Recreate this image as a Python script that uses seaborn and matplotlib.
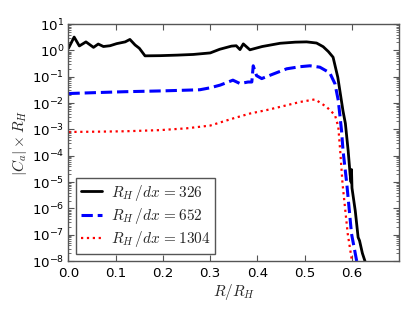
import numpy as np
import pandas as pd
import matplotlib
matplotlib.use("Agg")
import matplotlib.pyplot as plt
from matplotlib.ticker import LogLocator, NullFormatter
import seaborn as sns

# ---- data ----
x_326 = [0.0, 0.012, 0.023, 0.037, 0.053, 0.063, 0.074, 0.088, 0.102, 0.12, 0.13, 0.141,
         0.15, 0.162, 0.194, 0.23, 0.264, 0.3, 0.32, 0.345, 0.355, 0.363, 0.37, 0.384, 0.41,
         0.448, 0.48, 0.504, 0.525, 0.539, 0.55, 0.56, 0.57, 0.581, 0.586, 0.592, 0.596,
         0.598, 0.599, 0.600, 0.607, 0.613, 0.616, 0.622, 0.633]
y_326 = [1.2, 3.2, 1.47, 2.1, 1.3, 1.74, 1.4, 1.5, 1.8, 2.1, 2.6, 1.6,
         1.2, 0.62, 0.63, 0.66, 0.7, 0.8, 1.1, 1.45, 1.5, 1.07, 1.76, 1.05, 1.4,
         1.86, 2.05, 2.1, 1.9, 1.38, 0.9, 0.55, 0.095, 5e-3, 1.7e-3, 1.5e-4, 2e-5,
         1e-5, 3e-5, 6e-6, 8e-7, 8e-8, 6e-8, 2e-8, 5e-9]

x_652 = [0.0, 0.06, 0.12, 0.2, 0.278, 0.3, 0.321, 0.348, 0.363, 0.38, 0.388, 0.391, 0.398,
         0.409, 0.43, 0.462, 0.49, 0.511, 0.532, 0.553, 0.564, 0.571, 0.578, 0.581, 0.589,
         0.599, 0.61, 0.614]
y_652 = [0.023, 0.025, 0.027, 0.029, 0.032, 0.038, 0.048, 0.074, 0.055, 0.063, 0.063, 0.26, 0.11,
         0.085, 0.12, 0.2, 0.24, 0.26, 0.23, 0.14, 0.054, 0.0126, 8.7e-4, 1.6e-4, 8.7e-6,
         1.1e-7, 1e-8, 5e-9]

x_1304 = [0.0, 0.06, 0.12, 0.194, 0.25, 0.3, 0.348, 0.384, 0.419, 0.455, 0.49, 0.522, 0.546,
          0.564, 0.571, 0.575, 0.58, 0.591, 0.6, 0.603]
y_1304 = [8e-4, 8.2e-4, 8.5e-4, 9.4e-4, 1.1e-3, 1.4e-3, 2.6e-3, 4e-3, 5.4e-3, 7.7e-3, 0.011,
          0.0138, 7.2e-3, 3.5e-3, 1.26e-3, 1.6e-4, 8.7e-6, 1.1e-7, 1e-8, 5e-9]

labels = [r'$R_H\,/dx\,=326$', r'$R_H\,/dx\,=652$', r'$R_H\,/dx\,=1304$']
colors = ['black', 'blue', 'red']
styles = ['-', '--', ':']
widths = [2.0, 2.2, 1.6]

sns.set_theme(style="ticks")
plt.rcParams.update({
    'font.family': ['DejaVu Sans'],
    'font.size': 9.6,
    'mathtext.fontset': 'cm',
    'xtick.direction': 'in', 'ytick.direction': 'in',
    'xtick.top': True, 'ytick.right': True,
    'axes.edgecolor': '#555555', 'axes.linewidth': 1.0,
    'xtick.color': '#555555', 'ytick.color': '#555555',
    'xtick.labelcolor': 'black', 'ytick.labelcolor': 'black',
    'xtick.labelsize': 9.6, 'ytick.labelsize': 9.6,
})

fig = plt.figure(figsize=(4.15, 3.12), dpi=100)
ax = fig.add_axes([0.165, 0.163, 0.797, 0.760])

series = [(x_326, y_326), (x_652, y_652), (x_1304, y_1304)]
for (xs, ys), lab, c, ls, lw in zip(series, labels, colors, styles, widths):
    df = pd.DataFrame({'x': xs, 'y': ys})
    sns.lineplot(data=df, x='x', y='y', ax=ax, color=c, linestyle=ls, linewidth=lw,
                 label=lab, sort=False, estimator=None)

ax.set_yscale('log')
ax.set_xlim(0, 0.7)
ax.set_ylim(1e-8, 1e1)
ax.set_xticks([0.0, 0.1, 0.2, 0.3, 0.4, 0.5, 0.6])
ax.set_xticklabels(['0.0', '0.1', '0.2', '0.3', '0.4', '0.5', '0.6'])
ax.set_yticks([10.0 ** k for k in range(-8, 2)])
ax.yaxis.set_minor_locator(LogLocator(base=10, subs=np.arange(2, 10), numticks=100))
ax.yaxis.set_minor_formatter(NullFormatter())
ax.set_xlabel(r'$R/R_H$', fontsize=11, labelpad=2)
ax.set_ylabel(r'$|C_a|\times R_H$', fontsize=11, labelpad=2)
ax.tick_params(axis='both', which='major', length=4, width=0.8, direction='in',
               top=True, right=True)
ax.tick_params(axis='x', which='major', pad=4)
ax.tick_params(axis='y', which='major', pad=3)
ax.tick_params(axis='y', which='minor', length=2, width=0.6, direction='in',
               left=True, right=True)

leg = ax.legend(loc='lower left', fontsize=11, handlelength=1.4, fancybox=False,
                frameon=True, borderaxespad=0.5, labelspacing=0.2, borderpad=0.3,
                handletextpad=0.6)
leg.get_frame().set_edgecolor('#555555')
leg.get_frame().set_linewidth(1.0)
leg.get_frame().set_alpha(1)

fig.savefig('out.png', dpi=100)
